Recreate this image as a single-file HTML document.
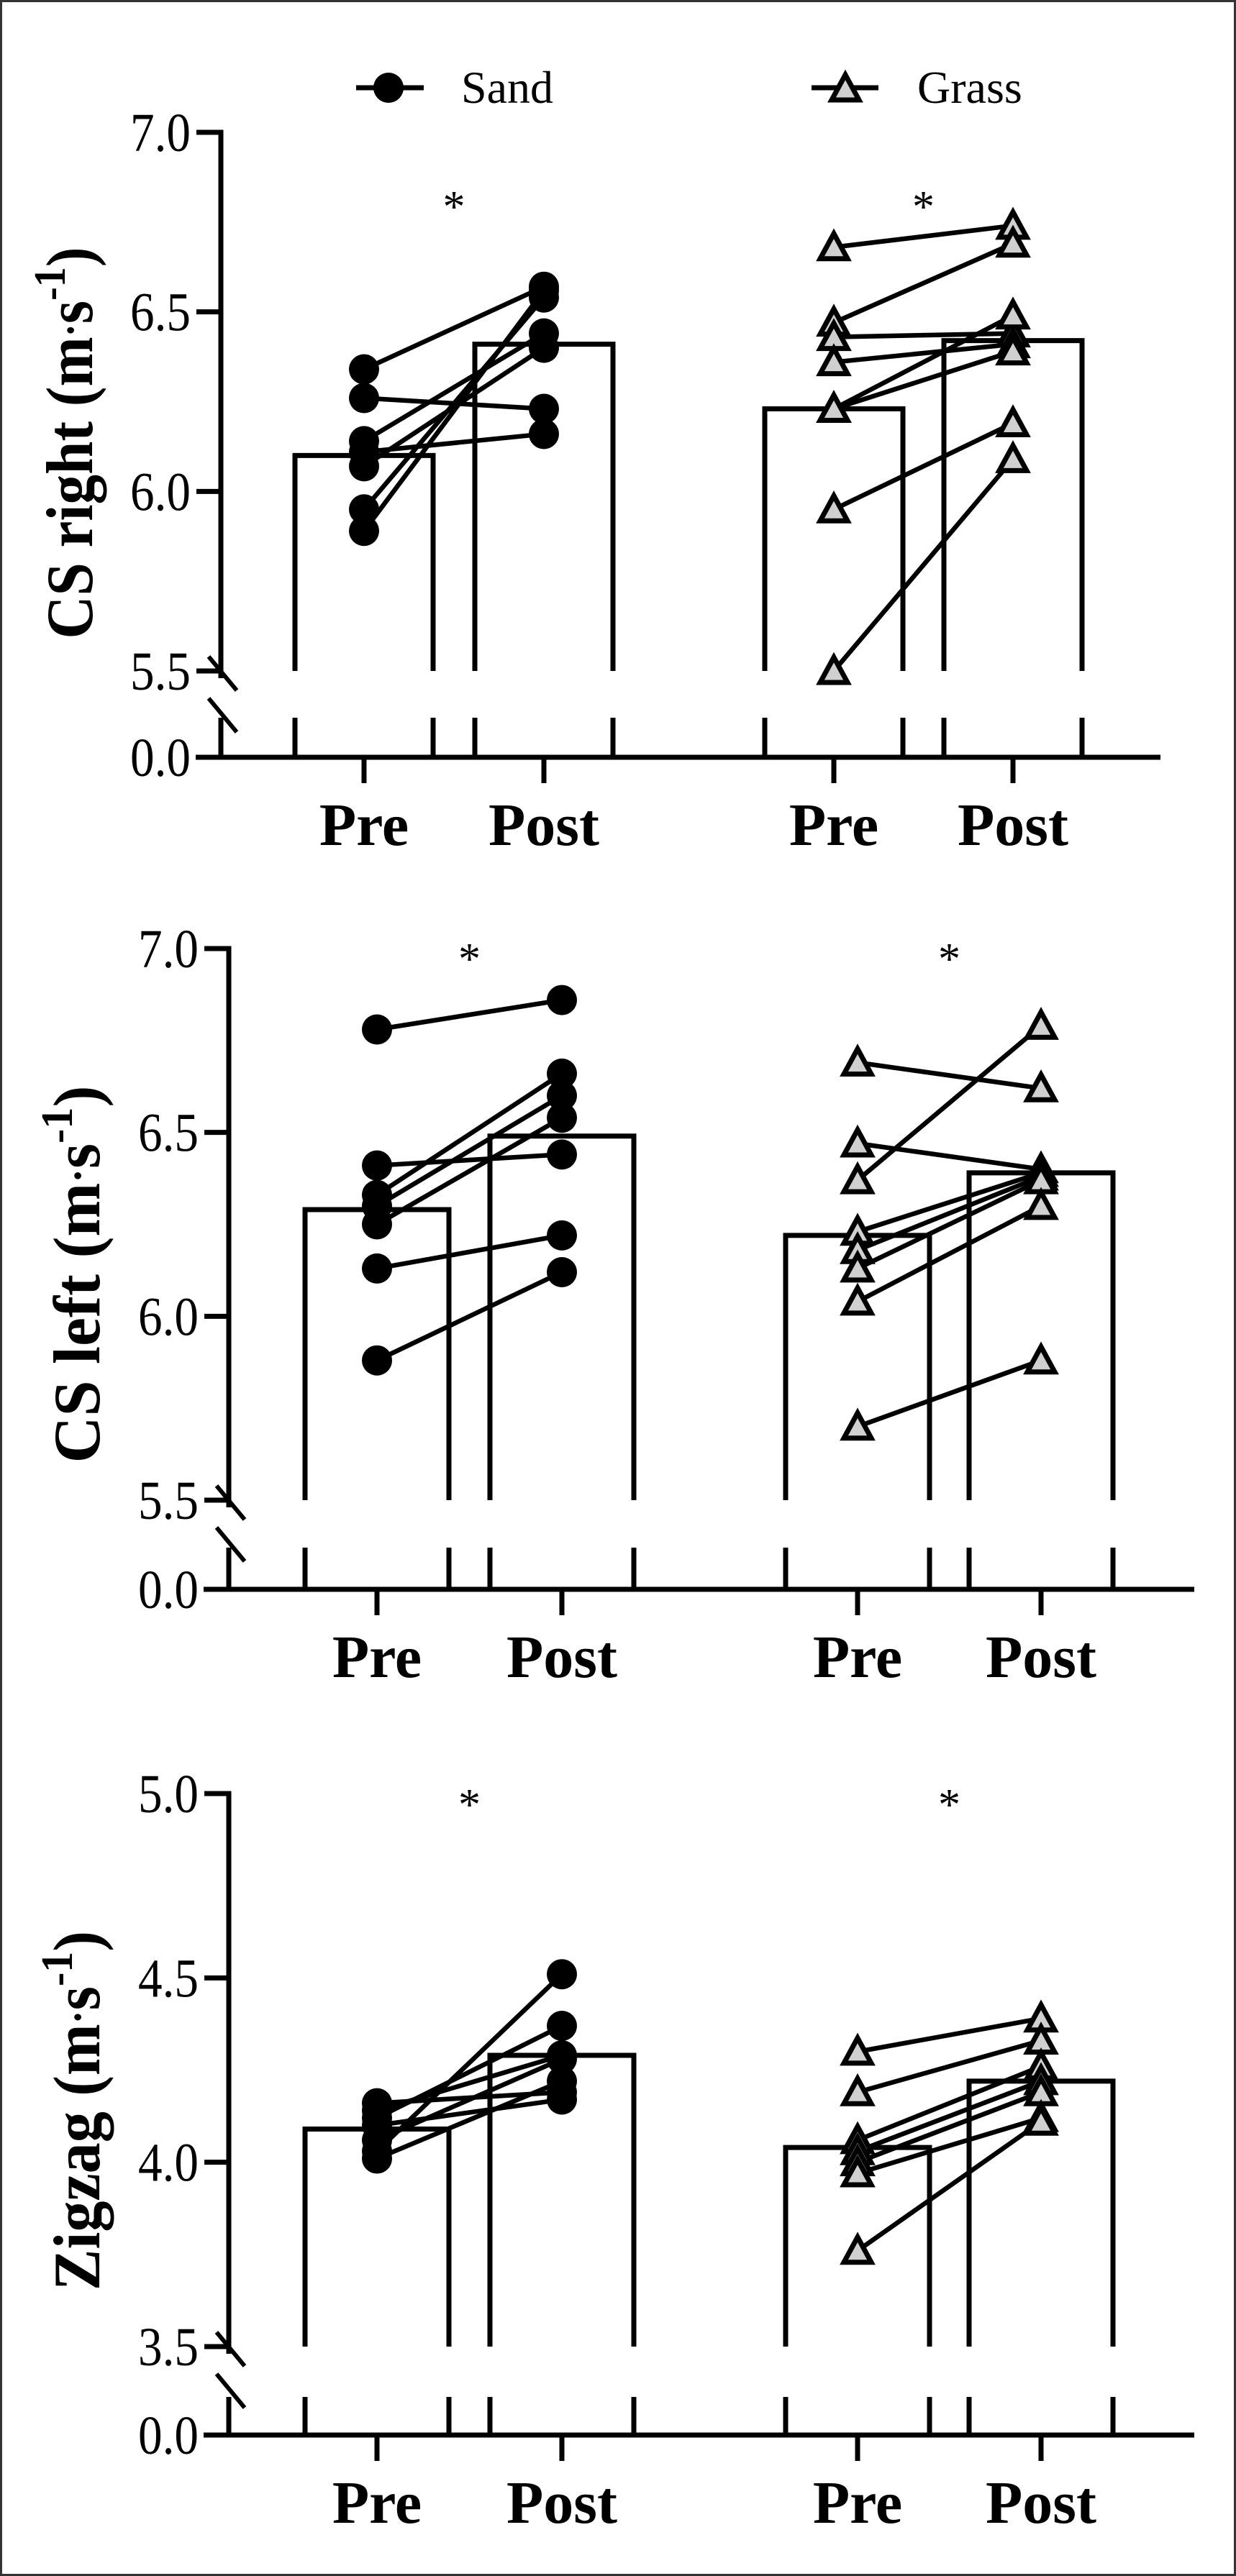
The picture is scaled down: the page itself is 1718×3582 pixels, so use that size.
<!DOCTYPE html>
<html><head><meta charset="utf-8"><style>
html,body{margin:0;padding:0;background:#fff}
svg{display:block;font-family:"Liberation Serif","Times New Roman","DejaVu Serif",serif}
svg text{font-family:"Liberation Serif","Times New Roman","DejaVu Serif",serif}
</style></head><body>
<svg id="chart" width="1718" height="3582" viewBox="0 0 1718 3582" xmlns="http://www.w3.org/2000/svg" font-family="Liberation Serif, DejaVu Serif, serif">
<rect x="1.5" y="1.5" width="1715" height="3579" fill="#fff" stroke="#333" stroke-width="3"/>
<g>
 <g>
  <line x1="495" y1="122" x2="589" y2="122" stroke="#000" stroke-width="7"/>
  <circle cx="540" cy="122" r="21" fill="#000"/>
  <text x="641" y="143" font-size="64" font-family="Liberation Serif, DejaVu Serif, serif">Sand</text>
 </g>
 <g>
  <line x1="1128" y1="122" x2="1221" y2="122" stroke="#000" stroke-width="7"/>
  <polygon points="1175,104 1194,139 1156,139" fill="#d0d0d0" stroke="#000" stroke-width="7" stroke-linejoin="miter"/>
  <text x="1275" y="143" font-size="64" font-family="Liberation Serif, DejaVu Serif, serif">Grass</text>
 </g>
</g>
</svg>
<script>
// ---- data ----
const categories = ["Pre","Post","Pre","Post"];
const groups = ["Sand","Grass"];
// Panel 1: CS right
const p1Ticks = ["7.0","6.5","6.0","5.5"];
const p1SandMean = [6.10, 6.41];
const p1GrassMean = [6.23, 6.42];
const p1SandPre  = [6.34,6.26,6.14,6.11,6.07,5.95,5.89];
const p1SandPost = [6.57,6.23,6.44,6.16,6.40,6.54,6.56];
const p1GrassPre  = [6.68,6.47,6.43,6.36,6.23,6.23,5.95,5.50];
const p1GrassPost = [6.74,6.69,6.44,6.41,6.49,6.39,6.19,6.09];
// Panel 2: CS left
const p2Ticks = ["7.0","6.5","6.0","5.5"];
const p2SandMean = [6.29, 6.49];
const p2GrassMean = [6.22, 6.39];
const p2SandPre  = [6.78,6.41,6.33,6.30,6.25,6.13,5.88];
const p2SandPost = [6.86,6.44,6.66,6.60,6.54,6.22,6.12];
const p2GrassPre  = [6.69,6.47,6.37,6.23,6.18,6.13,6.04,5.70];
const p2GrassPost = [6.62,6.40,6.79,6.39,6.38,6.37,6.30,5.88];
// Panel 3: Zigzag
const p3Ticks = ["5.0","4.5","4.0","3.5"];
const p3SandMean = [4.09, 4.29];
const p3GrassMean = [4.04, 4.22];
const p3SandPre  = [4.16,4.14,4.12,4.10,4.06,4.03,4.01];
const p3SandPost = [4.19,4.29,4.37,4.17,4.28,4.51,4.22];
const p3GrassPre  = [4.30,4.19,4.06,4.03,4.00,3.97,3.76];
const p3GrassPost = [4.39,4.33,4.26,4.22,4.19,4.12,4.11];

const NS = "http://www.w3.org/2000/svg";
const FF = "Liberation Serif, DejaVu Serif, serif";
const svg = document.getElementById("chart");
function mk(tag, attrs, parent){
  const e = document.createElementNS(NS, tag);
  for (const k in attrs) e.setAttribute(k, attrs[k]);
  if (tag === "text") e.setAttribute("font-family", FF);
  (parent||svg).appendChild(e);
  return e;
}

function panel(cfg){
  const g = mk("g", {});
  
  
  const top = parseFloat(cfg.ticks[0]), bottom = parseFloat(cfg.ticks[cfg.ticks.length-1]);
  const y = v => cfg.yTop + (top - v) / (top - bottom) * (cfg.yBot - cfg.yTop);
  const cx = cfg.cx;
  const ax = mk("g", {}, g);
  
  
  mk("line", {x1:cfg.axX, y1:cfg.yTop-3.5, x2:cfg.axX, y2:cfg.yBot+10, stroke:"#000","stroke-width":7}, ax);
  mk("line", {x1:cfg.axX, y1:cfg.lowTop, x2:cfg.axX, y2:cfg.zeroY, stroke:"#000","stroke-width":7}, ax);
  mk("line", {x1:cfg.axX-17, y1:cfg.yBot-20, x2:cfg.axX+22, y2:cfg.yBot+27, stroke:"#000","stroke-width":6}, ax);
  mk("line", {x1:cfg.axX-17, y1:cfg.yBot+38, x2:cfg.axX+22, y2:cfg.yBot+85, stroke:"#000","stroke-width":6}, ax);
  cfg.ticks.forEach(t => {
    const yy = y(parseFloat(t));
    mk("line", {x1:cfg.axX-34, y1:yy, x2:cfg.axX, y2:yy, stroke:"#000","stroke-width":7}, ax);
    const tx = mk("text", {x:cfg.axX-42, y:yy+26, "font-size":76, "text-anchor":"end", textLength:84, lengthAdjust:"spacingAndGlyphs"}, ax);
    
    
    tx.textContent = t;
  });
  mk("line", {x1:cfg.axX-34, y1:cfg.zeroY, x2:cfg.axX, y2:cfg.zeroY, stroke:"#000","stroke-width":7}, ax);
  const z = mk("text", {x:cfg.axX-42, y:cfg.zeroY+26, "font-size":76, "text-anchor":"end", textLength:84, lengthAdjust:"spacingAndGlyphs"}, ax);
  
  
  z.textContent = "0.0";
  const tt = mk("text", {transform:`translate(${cfg.titleX},${cfg.titleY}) rotate(-90)`, "font-size":92, "font-weight":"bold", "text-anchor":"middle", textLength:cfg.titleLen, lengthAdjust:"spacingAndGlyphs"}, g);
  
  
  tt.innerHTML = cfg.title + ' (m<tspan font-size="60" dy="-10">·</tspan><tspan dy="10">s</tspan><tspan font-size="62" dy="-38">-1</tspan><tspan dy="38">)</tspan>';
  const xa = mk("g", {}, g);
  
  
  mk("line", {x1:cfg.axX-35, y1:cfg.zeroY, x2:cfg.xEnd, y2:cfg.zeroY, stroke:"#000","stroke-width":7}, xa);
  categories.forEach((c,i) => {
    mk("line", {x1:cx[i], y1:cfg.zeroY, x2:cx[i], y2:cfg.zeroY+36, stroke:"#000","stroke-width":7}, xa);
    const lt = mk("text", {x:cx[i], y:cfg.zeroY+122, "font-size":84, "font-weight":"bold", "text-anchor":"middle"}, xa);
    
    
    lt.textContent = c;
  });
  const means = [cfg.sandMean[0], cfg.sandMean[1], cfg.grassMean[0], cfg.grassMean[1]];
  means.forEach((m,i) => {
    const l = cx[i]-cfg.bw/2, r = cx[i]+cfg.bw/2, yt = y(m);
    const b = mk("path", {d:`M${l},${cfg.yBot} V${yt} H${r} V${cfg.yBot} M${l},${cfg.lowTop} V${cfg.zeroY} M${r},${cfg.lowTop} V${cfg.zeroY}`, fill:"none", stroke:"#000","stroke-width":7}, g);
    
    
  });
  const sg = mk("g", {}, g);
  
  
  cfg.sandPre.forEach((v,i) => {
    mk("line", {x1:cx[0], y1:y(v), x2:cx[1], y2:y(cfg.sandPost[i]), stroke:"#000","stroke-width":6.5}, sg);
  });
  cfg.sandPre.forEach(v => {
    const c = mk("circle", {cx:cx[0], cy:y(v), r:21, fill:"#000"}, sg);
    
    
  });
  cfg.sandPost.forEach(v => {
    const c = mk("circle", {cx:cx[1], cy:y(v), r:21, fill:"#000"}, sg);
    
    
  });
  const gg = mk("g", {}, g);
  
  
  cfg.grassPre.forEach((v,i) => {
    mk("line", {x1:cx[2], y1:y(v), x2:cx[3], y2:y(cfg.grassPost[i]), stroke:"#000","stroke-width":6.5}, gg);
  });
  const tri = (x0,y0) => `${x0},${y0-19} ${x0+19},${y0+16} ${x0-19},${y0+16}`;
  cfg.grassPre.forEach(v => {
    const p = mk("polygon", {points:tri(cx[2], y(v)), fill:"#d0d0d0", stroke:"#000","stroke-width":7}, gg);
    
    
  });
  cfg.grassPost.forEach(v => {
    const p = mk("polygon", {points:tri(cx[3], y(v)), fill:"#d0d0d0", stroke:"#000","stroke-width":7}, gg);
    
    
  });
  [ (cx[0]+cx[1])/2, (cx[2]+cx[3])/2 ].forEach(ax0 => {
    const s = mk("text", {x:ax0, y:cfg.astY, "font-size":62, "text-anchor":"middle"}, g);
    
    
    s.textContent = "*";
  });
}

panel({name:"panel-cs-right", ticks:p1Ticks, yTop:184, yBot:933, lowTop:998, zeroY:1053, axX:307, xEnd:1613,
  cx:[506,756,1159,1408], bw:192, titleX:128, titleY:616, titleLen:545, title:"CS right", astY:308,
  sandMean:p1SandMean, grassMean:p1GrassMean, sandPre:p1SandPre, sandPost:p1SandPost, grassPre:p1GrassPre, grassPost:p1GrassPost});
panel({name:"panel-cs-left", ticks:p2Ticks, yTop:1319, yBot:2086, lowTop:2152, zeroY:2210, axX:318, xEnd:1660,
  cx:[524,781,1192,1447], bw:200, titleX:138, titleY:1772, titleLen:525, title:"CS left", astY:1354,
  sandMean:p2SandMean, grassMean:p2GrassMean, sandPre:p2SandPre, sandPost:p2SandPost, grassPre:p2GrassPre, grassPost:p2GrassPost});
panel({name:"panel-zigzag", ticks:p3Ticks, yTop:2494, yBot:3263, lowTop:3333, zeroY:3386, axX:318, xEnd:1660,
  cx:[524,781,1192,1447], bw:200, titleX:138, titleY:2935, titleLen:500, title:"Zigzag", astY:2530,
  sandMean:p3SandMean, grassMean:p3GrassMean, sandPre:p3SandPre, sandPost:p3SandPost, grassPre:p3GrassPre, grassPost:p3GrassPost});
</script>
</body></html>
